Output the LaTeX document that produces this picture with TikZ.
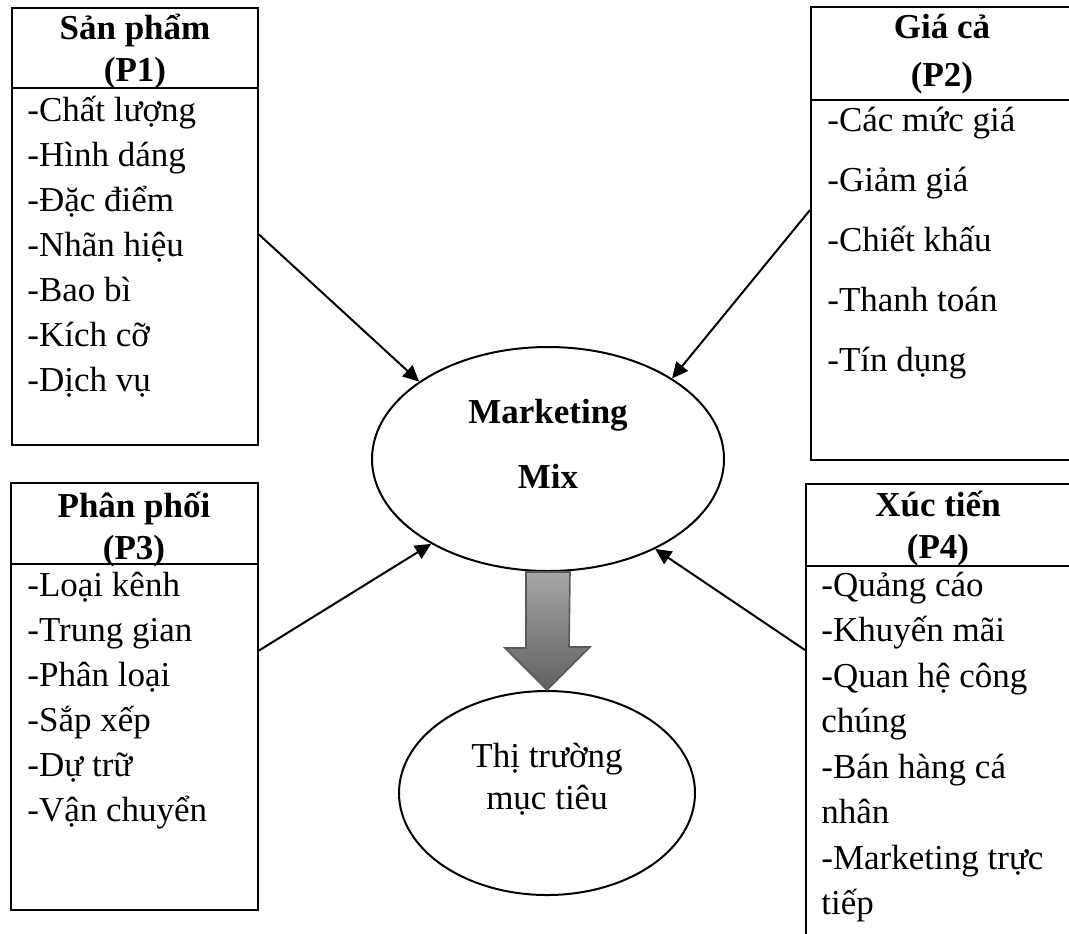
\documentclass[tikz,border=0pt]{standalone}
\usepackage{fontspec}
\setmainfont{Liberation Serif}
\usetikzlibrary{arrows.meta,shapes.geometric}

\tikzset{
  box/.style={draw,line width=1pt,inner sep=0pt},
  oval/.style={draw,ellipse,line width=1pt,inner sep=0pt},
  head/.style={font=\fontsize{17.5}{21}\selectfont\bfseries,align=center,inner sep=0pt},
  item/.style={anchor=west,inner sep=0pt,text height=12pt,text depth=3pt},
  link/.style={line width=1pt,-{Triangle[length=8pt,width=7.5pt]}},
  bigarrow/.style={draw=black!65,line width=0.8pt,top color=black!35,bottom color=black!62}
}

\begin{document}
\begin{tikzpicture}[x=0.5pt,y=-0.5pt,every node/.style={font=\fontsize{17.5}{21}\selectfont}]
\useasboundingbox (0,0) rectangle (1069,933);

% the four P boxes
\node[box,minimum width=123pt,minimum height=218.5pt] (sanpham) at (135,226.5) {};
\node[box,minimum width=131pt,minimum height=226.5pt] (giaca) at (942,233.5) {};
\node[box,minimum width=123.5pt,minimum height=213.5pt] (phanphoi) at (134.5,696.5) {};
\node[box,minimum width=133.5pt,minimum height=233pt] (xuctien) at (939.5,717) {};

\draw[line width=1pt] ([yshift=-40.5pt]sanpham.north west) -- ([yshift=-40.5pt]sanpham.north east);
\draw[line width=1pt] ([yshift=-47pt]giaca.north west) -- ([yshift=-47pt]giaca.north east);
\draw[line width=1pt] ([yshift=-41pt]phanphoi.north west) -- ([yshift=-41pt]phanphoi.north east);
\draw[line width=1pt] ([yshift=-41.5pt]xuctien.north west) -- ([yshift=-41.5pt]xuctien.north east);

\node[head] (sptitle) at (135,51) {Sản phẩm\\(P1)};
\node[head] (gctitle) at (942,54) {Giá cả\\[3pt](P2)};
\node[head] (pptitle) at (134,529) {Phân phối\\(P3)};
\node[head] (xttitle) at (938,528) {Xúc tiến\\(P4)};

\foreach \t [count=\i] in {-Chất lượng,-Hình dáng,-Đặc điểm,-Nhãn hiệu,-Bao bì,-Kích cỡ,-Dịch vụ}
  \node[item] (sp\i) at (27,{112+45*(\i-1)}) {\t};
\foreach \t [count=\i] in {-Các mức giá,-Giảm giá,-Chiết khấu,-Thanh toán,-Tín dụng}
  \node[item] (gc\i) at (827,{122+60*(\i-1)}) {\t};
\foreach \t [count=\i] in {-Loại kênh,-Trung gian,-Phân loại,-Sắp xếp,-Dự trữ,-Vận chuyển}
  \node[item] (pp\i) at (27,{587+45*(\i-1)}) {\t};
\foreach \t [count=\i] in {-Quảng cáo,-Khuyến mãi,-Quan hệ công,chúng,-Bán hàng cá,nhân,-Marketing trực,tiếp}
  \node[item] (xt\i) at (821,{587+45.5*(\i-1)}) {\t};

% centre
\node[oval,minimum width=176pt,minimum height=112pt] (mix) at (548,459) {};
\node[head] (mixlabel) at (548,444) {Marketing\\[11.5pt]Mix};
\node[oval,minimum width=148pt,minimum height=102pt] (thitruong) at (547,793) {};
\node[inner sep=0pt,align=center] (thitruonglabel) at (547,779) {Thị trường\\mục tiêu};

\draw[link] ([yshift=-4pt]sanpham.east) -- (mix.149);
\draw[link] ([yshift=11.75pt]giaca.west) -- (mix.33);
\draw[link] ([yshift=23pt]phanphoi.east) -- (mix.216);
\draw[link] ([yshift=33.5pt]xuctien.west) -- (mix.-40);

\draw[bigarrow] ([xshift=-11pt]mix.south) -- ++(0,76) -- ++(-21,0) -- (thitruong.north)
  -- ++(43,-43) -- ++(-21,0) -- ([xshift=11pt]mix.south) -- cycle;
\end{tikzpicture}
\end{document}
